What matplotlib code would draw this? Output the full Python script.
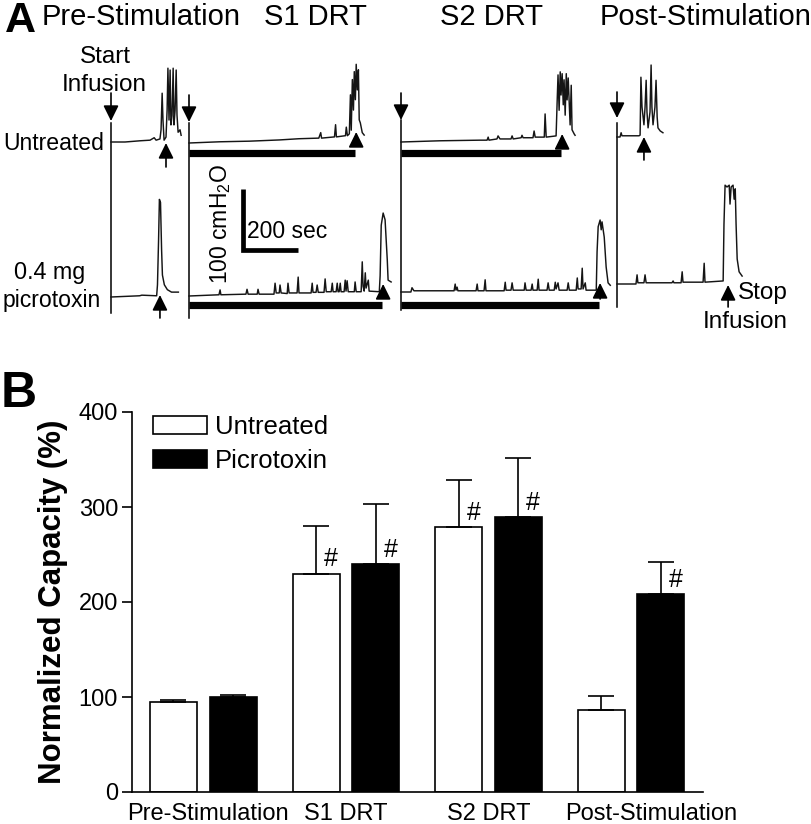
"""
Cystometrogram traces (A) and normalized bladder capacity (B)
"""
import matplotlib
matplotlib.use("Agg")
import matplotlib.pyplot as plt
from matplotlib.patches import Patch
from matplotlib.transforms import Affine2D, blended_transform_factory
import numpy as np

plt.rcParams["font.family"] = ["Liberation Sans", "DejaVu Sans"]
plt.rcParams["mathtext.fontset"] = "custom"
plt.rcParams["mathtext.rm"] = "Liberation Sans"
plt.rcParams["mathtext.default"] = "regular"

# ---- panel B: normalized capacity (%)
groups = ["Pre-Stimulation", "S1 DRT", "S2 DRT", "Post-Stimulation"]
untreated_mean = [95, 230, 279, 86]
untreated_sem = [2, 50, 49, 15]
untreated_sig = [False, True, True, False]
picro_mean = [100, 240, 289, 208]
picro_sem = [2, 63, 63, 34]
picro_sig = [False, True, True, True]

# ---- panel A: traces, time (s) from segment start, pressure (cmH2O) above baseline
pre_u_t = [0, 51, 106, 142, 157, 164, 178, 182, 186, 189, 193, 200, 204, 207, 211, 215,
           218, 222, 226, 229, 233, 237, 240, 244, 251, 255]
pre_u_p = [0, 0, 2, 3, 7, 3, 5, 20, 80, 36, 3, 8, 52, 121, 36, 118,
           28, 44, 121, 28, 52, 118, 44, 16, 20, 11]
pre_p_t = [0, 104, 112, 166, 169, 173, 176, 180, 184, 187, 194, 205, 220, 245]
pre_p_p = [0, 2, 3, 2, 20, 94, 160, 155, 77, 36, 20, 12, 8, 8]

s1_u_t = [0, 112, 220, 328, 400, 472, 479, 482, 529, 533, 536, 569, 572, 576, 583, 587,
          590, 594, 598, 601, 605, 608, 612, 616, 619, 623, 630, 637]
s1_u_p = [0, 2, 3, 5, 7, 8, 17, 8, 10, 30, 10, 12, 26, 12, 15, 79,
          21, 104, 54, 117, 71, 129, 87, 120, 38, 33, 17, 13]
s1_p_t = [0, 109, 113, 116, 207, 211, 215, 248, 251, 255, 309, 313, 317, 328, 331, 335,
          357, 360, 364, 393, 397, 400, 444, 448, 451, 462, 466, 470, 491, 495, 499,
          517, 521, 524, 535, 539, 542, 546, 550, 553, 564, 568, 571, 575, 579,
          601, 604, 608, 626, 630, 633, 637, 641, 644, 652, 655,
          692, 695, 699, 706, 713, 721, 724, 735]
s1_p_p = [0, 2, 10, 2, 3, 11, 3, 3, 11, 3, 3, 21, 5, 5, 18, 5,
          4, 21, 5, 5, 31, 5, 5, 21, 6, 6, 18, 6, 6, 28, 7,
          7, 21, 7, 7, 21, 7, 7, 21, 7, 7, 26, 8, 25, 7,
          7, 23, 7, 7, 56, 16, 8, 38, 13, 26, 8,
          7, 33, 116, 136, 125, 59, 26, 23]

s2_u_t = [0, 142, 288, 313, 317, 320, 349, 353, 360, 400, 404, 408, 437, 440, 444,
          480, 484, 488, 521, 524, 528, 564, 568, 571, 575, 579, 582, 586, 590, 593,
          597, 601, 604, 608, 615, 619, 622, 630, 633]
s2_u_p = [0, 2, 3, 3, 8, 3, 5, 10, 5, 5, 10, 5, 7, 11, 7,
          7, 18, 8, 8, 46, 8, 10, 69, 110, 52, 115, 77, 112, 61, 102,
          44, 112, 69, 105, 28, 93, 20, 13, 11]
s2_p_t = [0, 36, 40, 47, 193, 197, 200, 204, 207, 273, 277, 280, 302, 306, 309,
          375, 379, 382, 400, 404, 408, 448, 451, 455, 473, 477, 480, 495, 499, 502,
          531, 535, 539, 557, 561, 564, 571, 575, 604, 608, 612, 637, 641, 644,
          655, 659, 662, 670, 673, 710, 713, 717, 724, 728, 731, 739, 746, 753, 761]
s2_p_p = [0, 0, 7, 2, 2, 13, 3, 8, 2, 2, 13, 2, 2, 20, 2,
          2, 16, 3, 3, 15, 3, 3, 15, 3, 3, 13, 3, 3, 21, 3,
          3, 15, 3, 3, 16, 5, 15, 3, 3, 15, 3, 3, 23, 5,
          5, 39, 5, 15, 3, 3, 66, 107, 118, 102, 115, 90, 41, 15, 11]

post_u_t = [0, 11, 15, 18, 80, 84, 87, 91, 98, 102, 106, 109, 113, 120, 124, 127,
            131, 138, 142, 146, 149, 157, 167]
post_u_p = [0, 0, 7, 2, 2, 3, 98, 49, 20, 49, 93, 41, 15, 41, 118, 49,
            20, 49, 93, 33, 15, 10, 7]
post_p_t = [0, 69, 73, 76, 98, 102, 106, 200, 204, 207, 233, 237, 240, 313, 317, 320,
            386, 389, 393, 400, 408, 411, 415, 422, 426, 430, 433, 437, 444, 455]
post_p_p = [0, 0, 15, 2, 2, 15, 2, 2, 5, 2, 2, 20, 3, 3, 34, 3,
            5, 98, 162, 159, 162, 131, 159, 162, 139, 156, 98, 41, 20, 13]

# stimulation durations (s) and void times (s) per segment
stim_untreated = [0, 604, 582, 0]
stim_picro = [0, 703, 721, 0]
void_untreated = [200, 608, 586, 98]
void_picro = [178, 706, 724, 404]

SEC_PER_PX = 200 / 55
CM_PER_PX = 100 / 61


def main():
    """
    build the two-panel figure
    """
    fig = plt.figure(figsize=(8.12, 8.24), dpi=100)

    # ---------------- panel A (pixel-like layout frame)
    ax_a = fig.add_axes([0, 1 - 340 / 824, 1, 340 / 824])
    ax_a.set_xlim(0, 812)
    ax_a.set_ylim(340, 0)
    ax_a.axis("off")

    def frame(x0, y0):
        return Affine2D().scale(1 / SEC_PER_PX, -1 / CM_PER_PX).translate(x0, y0) + ax_a.transData

    seg_x = [111, 189, 401, 617]
    base_u = [142, 143, 142, 137]
    base_p = [297, 296, 292, 284]
    line_top = [123, 123, 120, 123]
    line_bot = [313, 318, 310, 307]
    down_tail = [93, 95, 93, 92]
    down_tip = [121, 122, 120, 118]
    up_u = [(167, 143), (146, 132), (148, 134), (160, 137)]
    up_p = [(318, 295), (298, 284), (299, 283), (307, 285)]
    bar_y_u = 153
    bar_y_p = 305

    traces_u = [(pre_u_t, pre_u_p), (s1_u_t, s1_u_p), (s2_u_t, s2_u_p), (post_u_t, post_u_p)]
    traces_p = [(pre_p_t, pre_p_p), (s1_p_t, s1_p_p), (s2_p_t, s2_p_p), (post_p_t, post_p_p)]

    arrow_style = dict(arrowstyle="-|>,head_length=0.85,head_width=0.42", color="black",
                       lw=1.2, shrinkA=0, shrinkB=0, mutation_scale=11)

    for i in range(4):
        ax_a.plot([seg_x[i], seg_x[i]], [line_top[i], line_bot[i]], color="black", lw=1.1)
        ax_a.annotate("", xy=(seg_x[i], down_tip[i]), xytext=(seg_x[i], down_tail[i]),
                      arrowprops=arrow_style)
        tu, pu = traces_u[i]
        tp, pp = traces_p[i]
        ax_a.plot(tu, pu, color="#151515", lw=1.05, transform=frame(seg_x[i], base_u[i]))
        ax_a.plot(tp, pp, color="#151515", lw=1.05, transform=frame(seg_x[i], base_p[i]))

        blend_u = blended_transform_factory(frame(seg_x[i], base_u[i]), ax_a.transData)
        blend_p = blended_transform_factory(frame(seg_x[i], base_p[i]), ax_a.transData)
        if stim_untreated[i]:
            ax_a.plot([0, stim_untreated[i]], [bar_y_u, bar_y_u], color="black", lw=5.2,
                      solid_capstyle="butt", transform=blend_u)
        if stim_picro[i]:
            ax_a.plot([0, stim_picro[i]], [bar_y_p, bar_y_p], color="black", lw=5.2,
                      solid_capstyle="butt", transform=blend_p)
        ax_a.annotate("", xy=(void_untreated[i], up_u[i][1]), xycoords=blend_u,
                      xytext=(void_untreated[i], up_u[i][0]), textcoords=blend_u,
                      arrowprops=arrow_style)
        ax_a.annotate("", xy=(void_picro[i], up_p[i][1]), xycoords=blend_p,
                      xytext=(void_picro[i], up_p[i][0]), textcoords=blend_p,
                      arrowprops=arrow_style)

    # scale bar: 100 cmH2O, 200 sec
    ax_a.plot([0, 0, 200], [100, 0, 0], color="black", lw=3.4, solid_joinstyle="miter",
              solid_capstyle="butt", transform=frame(243, 250))
    ax_a.text(221, 224, "100 cmH$_2$O", rotation=90, ha="center", va="center", fontsize=16.5)
    ax_a.text(247, 232, "200 sec", ha="left", va="center", fontsize=16.5)

    titles = ["Pre-Stimulation", "S1 DRT", "S2 DRT", "Post-Stimulation"]
    title_x = [141, 315, 492, 706]
    for name, tx in zip(titles, title_x):
        ax_a.text(tx, 17, name, ha="center", va="center", fontsize=21)

    ax_a.text(105, 57, "Start", ha="center", va="center", fontsize=17.5)
    ax_a.text(104, 85, "Infusion", ha="center", va="center", fontsize=17.5)
    ax_a.text(104, 143, "Untreated", ha="right", va="center", fontsize=16.6)
    ax_a.text(50, 273, "0.4 mg", ha="center", va="center", fontsize=16.8)
    ax_a.text(52, 301, "picrotoxin", ha="center", va="center", fontsize=16.6)
    ax_a.text(738, 293, "Stop", ha="left", va="center", fontsize=17.5)
    ax_a.text(745, 322, "Infusion", ha="center", va="center", fontsize=17.5)

    fig.text(20 / 812, 1 - 21 / 824, "A", fontsize=31, fontweight="bold",
             ha="center", va="center")
    fig.text(19 / 812, 1 - 394 / 824, "B", fontsize=36, fontweight="bold",
             ha="center", va="center")

    # ---------------- panel B
    ax_b = fig.add_axes([132 / 812, 32 / 824, 571 / 812, 380 / 824])
    xpos = np.arange(len(groups))
    width = 0.33
    off = 0.209
    err_kw = dict(ecolor="black", elinewidth=1.2, capsize=9.5, capthick=1.2)
    zeros = np.zeros(len(groups))
    ax_b.bar(xpos - off, untreated_mean, width, color="white", edgecolor="black",
             linewidth=1.2, yerr=[zeros, untreated_sem], error_kw=err_kw, label="Untreated")
    ax_b.bar(xpos + off, picro_mean, width, color="black", edgecolor="black",
             linewidth=1.2, yerr=[zeros, picro_sem], error_kw=err_kw, label="Picrotoxin")

    for i in range(len(groups)):
        if untreated_sig[i]:
            ax_b.text(xpos[i] - off + 0.105, untreated_mean[i] + 15, "#",
                      ha="center", va="center", fontsize=18)
        if picro_sig[i]:
            ax_b.text(xpos[i] + off + 0.105, picro_mean[i] + 15, "#",
                      ha="center", va="center", fontsize=18)

    ax_b.set_xlim(-0.5, 3.505)
    ax_b.set_ylim(0, 400)
    ax_b.set_yticks([0, 100, 200, 300, 400])
    # category labels sit slightly right of the group centres in the original
    ax_b.set_xticks(xpos + np.array([0.03, 0.0, 0.0, 0.14]))
    ax_b.set_xticklabels(groups, fontsize=17)
    ax_b.tick_params(axis="x", length=0, pad=8)
    ax_b.tick_params(axis="y", length=7, width=1.2, labelsize=17, pad=3)
    for side in ["top", "right"]:
        ax_b.spines[side].set_visible(False)
    for side in ["left", "bottom"]:
        ax_b.spines[side].set_linewidth(1.2)
    ax_b.set_ylabel("Normalized Capacity (%)", fontsize=22.5, fontweight="bold")
    ax_b.yaxis.set_label_coords(-0.112, 0.5)

    handles = [Patch(facecolor="white", edgecolor="black", linewidth=1.2),
               Patch(facecolor="black", edgecolor="black", linewidth=1.2)]
    ax_b.legend(handles, ["Untreated", "Picrotoxin"], loc="upper left",
                bbox_to_anchor=(153 / 812, 1 - 415 / 824), bbox_transform=fig.transFigure,
                frameon=False, fontsize=18.5, borderpad=0, borderaxespad=0,
                handlelength=2.1, handleheight=0.75, handletextpad=0.3, labelspacing=0.39)

    fig.savefig("out.png", dpi=100)


if __name__ == "__main__":
    main()
